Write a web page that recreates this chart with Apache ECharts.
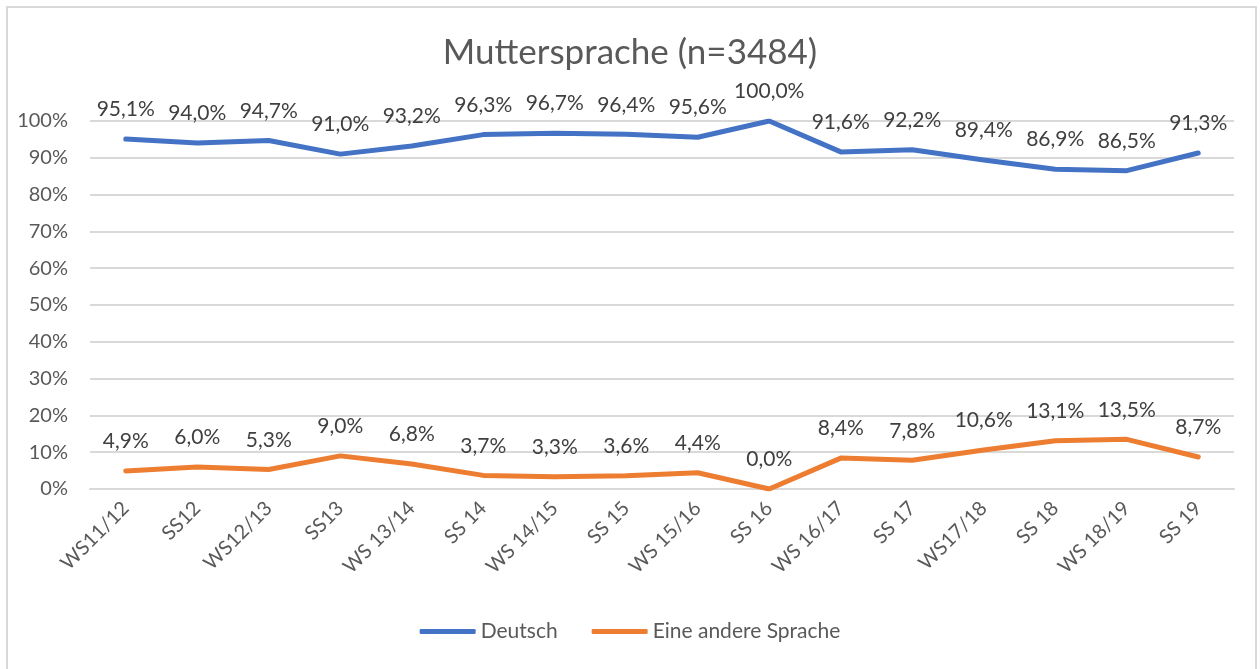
<!DOCTYPE html>
<html>
<head>
<meta charset="utf-8">
<script src="https://cdn.jsdelivr.net/npm/echarts@6/dist/echarts.min.js"></script>
<style>
  html, body { margin: 0; padding: 0; background: #fff; }
  #frame { position: absolute; left: 6px; top: 6px; width: 1251px; height: 700px; border: 2px solid #D9D9D9; box-sizing: border-box; }
  #chart { position: absolute; left: 0; top: 0; width: 1260px; height: 669px; }
</style>
</head>
<body>
<div id="frame"></div>
<div id="chart"></div>
<script>
// Semester
var semester = ['WS11/12', 'SS12', 'WS12/13', 'SS13', 'WS 13/14', 'SS 14', 'WS 14/15', 'SS 15',
  'WS 15/16', 'SS 16', 'WS 16/17', 'SS 17', 'WS17/18', 'SS 18', 'WS 18/19', 'SS 19']
// Anteile in %
var deutsch = [95.1, 94.0, 94.7, 91.0, 93.2, 96.3, 96.7, 96.4, 95.6, 100.0, 91.6, 92.2, 89.4, 86.9, 86.5, 91.3]
var andere = [4.9, 6.0, 5.3, 9.0, 6.8, 3.7, 3.3, 3.6, 4.4, 0.0, 8.4, 7.8, 10.6, 13.1, 13.5, 8.7]

var schrift = 'Lato, "Open Sans", sans-serif'

function prozent(v) {
  return v.toFixed(1).replace('.', ',') + '%'
}

var chart = echarts.init(document.getElementById('chart'))
chart.setOption({
  animation: false,
  textStyle: { fontFamily: schrift },
  title: {
    text: 'Muttersprache (n=3484)',
    left: 'center',
    top: 30,
    textStyle: { fontSize: 35, fontWeight: 'normal', color: '#595959', fontFamily: schrift }
  },
  legend: {
    bottom: 22,
    left: 'center',
    icon: 'roundRect',
    itemWidth: 56,
    itemHeight: 5,
    itemGap: 34,
    textStyle: { fontSize: 21, color: '#595959', fontFamily: schrift },
    data: ['Deutsch', 'Eine andere Sprache']
  },
  grid: { left: 90, right: 26, top: 121, bottom: 180, containLabel: false },
  xAxis: {
    type: 'category',
    data: semester,
    boundaryGap: true,
    axisLine: { lineStyle: { color: '#D9D9D9', width: 2 } },
    axisTick: { show: false },
    axisLabel: { rotate: 45, margin: 16, fontSize: 20, color: '#595959', fontFamily: schrift, interval: 0 }
  },
  yAxis: {
    type: 'value',
    min: 0,
    max: 100,
    interval: 10,
    axisLine: { show: false },
    axisTick: { show: false },
    splitLine: { lineStyle: { color: '#D9D9D9', width: 2 } },
    axisLabel: { formatter: '{value}%', fontSize: 20, color: '#595959', margin: 22, fontFamily: schrift }
  },
  series: [
    {
      name: 'Deutsch',
      type: 'line',
      data: deutsch,
      showSymbol: true,
      symbol: 'circle',
      symbolSize: 0,
      lineStyle: { color: '#4472C4', width: 5, cap: 'round', join: 'round' },
      itemStyle: { color: '#4472C4' },
      label: {
        show: true, position: 'top', distance: 19, fontSize: 21, color: '#404040', fontFamily: schrift,
        formatter: function (p) { return prozent(p.value) }
      }
    },
    {
      name: 'Eine andere Sprache',
      type: 'line',
      data: andere,
      showSymbol: true,
      symbol: 'circle',
      symbolSize: 0,
      lineStyle: { color: '#ED7D31', width: 5, cap: 'round', join: 'round' },
      itemStyle: { color: '#ED7D31' },
      label: {
        show: true, position: 'top', distance: 19, fontSize: 21, color: '#404040', fontFamily: schrift,
        formatter: function (p) { return prozent(p.value) }
      }
    }
  ]
})
</script>
</body>
</html>
